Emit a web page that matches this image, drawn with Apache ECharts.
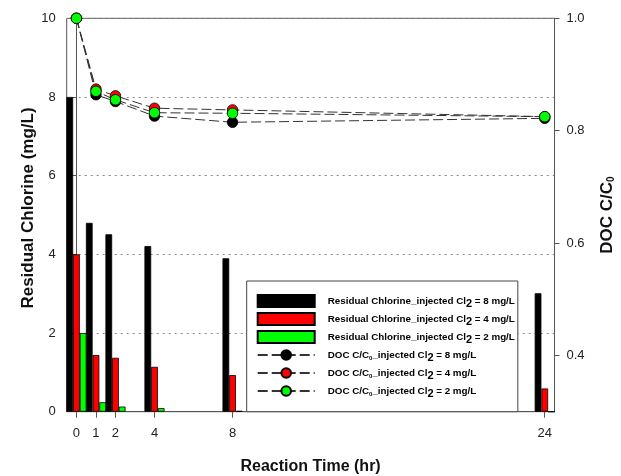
<!DOCTYPE html>
<html>
<head>
<meta charset="utf-8">
<script src="https://cdn.jsdelivr.net/npm/echarts@6/dist/echarts.min.js"></script>
<style>
  html, body { margin: 0; padding: 0; background: #fff; }
  #chart { width: 621px; height: 476px; }
</style>
</head>
<body>
<div id="chart"></div>
<script>
// Sampling times (hr)
const times = [0, 1, 2, 4, 8, 24];
const timeTicks = [0, 1, 2, 4, 8, 24];

// Residual chlorine (mg/L) for each injected Cl2 dose
const chlorine8 = [8.0, 4.80, 4.51, 4.21, 3.90, 3.01];
const chlorine4 = [4.0, 1.44, 1.37, 1.14, 0.93, 0.59];
const chlorine2 = [2.0, 0.24, 0.13, 0.09, 0.02, 0];

// DOC C/C0 for each injected Cl2 dose
const doc8 = [1.0, 0.864, 0.852, 0.826, 0.815, 0.822];
const doc4 = [1.0, 0.874, 0.862, 0.840, 0.837, 0.825];
const doc2 = [1.0, 0.870, 0.855, 0.832, 0.831, 0.825];

const docTicks = [0.4, 0.6, 0.8, 1.0];

const names = {
  cl8: 'Residual Chlorine_injected Cl2 = 8 mg/L',
  cl4: 'Residual Chlorine_injected Cl2 = 4 mg/L',
  cl2: 'Residual Chlorine_injected Cl2 = 2 mg/L',
  doc8: 'DOC C/C0_injected Cl2 = 8 mg/L',
  doc4: 'DOC C/C0_injected Cl2 = 4 mg/L',
  doc2: 'DOC C/C0_injected Cl2 = 2 mg/L'
};

const FONT = 'Arial, "Liberation Sans", sans-serif';
const AXIS_COLOR = '#555';

const pairs = (ys) => times.map((t, i) => [t, ys[i]]);

function barSeries(name, ys, color) {
  return {
    name, type: 'bar', yAxisIndex: 0,
    data: pairs(ys),
    barWidth: 6.7, barGap: '0%',
    itemStyle: { color, borderColor: '#000', borderWidth: 0.8 },
    emphasis: { disabled: true }
  };
}

function docSeries(name, ys, color) {
  return {
    name, type: 'line', yAxisIndex: 1,
    data: pairs(ys),
    symbol: 'circle', symbolSize: 10.5,
    itemStyle: { color, borderColor: '#000', borderWidth: 0.8 },
    lineStyle: { color: '#333', width: 1, type: [10, 4] },
    emphasis: { disabled: true }
  };
}

// Legend text: every run is a rich token so the subscripts can sit lower
function legendLabel(name) {
  const parts = name.replace('C/C0', 'C/C\u0001z\u0001').replace('Cl2', 'Cl\u0001s\u0001').split('\u0001');
  let out = '';
  parts.forEach((p, i) => {
    if (i % 2 === 0) { if (p) out += '{t|' + p + '}'; }
    else if (p === 's') out += '{s|2}';
    else out += '{z|0}';
  });
  return out;
}

const chart = echarts.init(document.getElementById('chart'), null, { renderer: 'canvas' });

chart.setOption({
  animation: false,
  backgroundColor: '#fff',
  textStyle: { fontFamily: FONT },
  grid: {
    left: 66.7, right: 66.5, top: 18.3, bottom: 64.3,
    outerBoundsMode: 'none', containLabel: false,
    show: true, borderColor: AXIS_COLOR, borderWidth: 1, backgroundColor: 'transparent'
  },
  legend: {
    orient: 'vertical',
    left: 246.7, top: 281,
    padding: [12, 3, 12.7, 10],
    itemGap: 2,
    itemWidth: 57, itemHeight: 12,
    borderColor: '#444', borderWidth: 1,
    backgroundColor: '#fff',
    selectedMode: false,
    data: [
      { name: names.cl8, icon: 'rect' },
      { name: names.cl4, icon: 'rect' },
      { name: names.cl2, icon: 'rect' },
      { name: names.doc8 },
      { name: names.doc4 },
      { name: names.doc2 }
    ],
    formatter: legendLabel,
    textStyle: {
      fontFamily: FONT, fontSize: 9.8, fontWeight: 'bold', color: '#000',
      padding: [0, 0, 0, 8],
      rich: {
        t: { fontFamily: FONT, fontSize: 9.8, fontWeight: 'bold', color: '#000', lineHeight: 12, verticalAlign: 'middle' },
        s: { fontFamily: FONT, fontSize: 11, fontWeight: 'bold', color: '#000', lineHeight: 9, padding: [5, 0, 0, 0], verticalAlign: 'middle' },
        z: { fontFamily: FONT, fontSize: 6, fontWeight: 'bold', color: '#000', lineHeight: 8, padding: [6, 0, 0, 0], verticalAlign: 'middle' }
      }
    }
  },
  xAxis: {
    type: 'value', min: -0.5, max: 24.5,
    name: 'Reaction Time (hr)', nameLocation: 'middle', nameGap: 47, nameMoveOverlap: false,
    nameTextStyle: { fontFamily: FONT, fontSize: 16, fontWeight: 'bold', color: '#111' },
    axisLine: { show: true, lineStyle: { color: AXIS_COLOR, width: 1 } },
    axisTick: { show: true, customValues: timeTicks, length: 6, inside: false, lineStyle: { color: AXIS_COLOR } },
    axisLabel: { customValues: timeTicks, fontSize: 13, color: '#222', margin: 15, fontFamily: FONT },
    splitLine: { show: false }
  },
  yAxis: [
    {
      type: 'value', min: 0, max: 10, interval: 2, position: 'left',
      name: 'Residual Chlorine (mg/L)', nameLocation: 'middle', nameRotate: 90, nameGap: 30, nameMoveOverlap: false,
      nameTextStyle: { fontFamily: FONT, fontSize: 17, fontWeight: 'bold', color: '#111', padding: [0, 0, 0, 14] },
      axisLine: { show: true, lineStyle: { color: AXIS_COLOR, width: 1 } },
      axisTick: { show: true, length: 5, lineStyle: { color: AXIS_COLOR } },
      axisLabel: { fontSize: 13, color: '#222', margin: 11, fontFamily: FONT },
      splitLine: { show: true, lineStyle: { color: '#888', width: 1, type: [2, 4] } }
    },
    {
      type: 'value', min: 0.3, max: 1.0, position: 'right',
      name: 'DOC C/C{sub|0}', nameLocation: 'middle', nameRotate: 90, nameGap: 44, nameMoveOverlap: false,
      nameTextStyle: {
        fontFamily: FONT, fontSize: 17, fontWeight: 'bold', color: '#111',
        rich: { sub: { fontFamily: FONT, fontSize: 10, fontWeight: 'bold', color: '#111', padding: [8, 0, 0, 0] } }
      },
      axisLine: { show: true, lineStyle: { color: AXIS_COLOR, width: 1 } },
      axisTick: { show: true, customValues: docTicks, length: 5, lineStyle: { color: AXIS_COLOR } },
      axisLabel: { customValues: docTicks, fontSize: 13, color: '#222', margin: 12, fontFamily: FONT,
                   formatter: (v) => v.toFixed(1) },
      splitLine: { show: false }
    }
  ],
  series: [
    barSeries(names.cl8, chlorine8, '#000000'),
    barSeries(names.cl4, chlorine4, '#ff0000'),
    barSeries(names.cl2, chlorine2, '#00ff00'),
    docSeries(names.doc8, doc8, '#000000'),
    docSeries(names.doc4, doc4, '#ff0000'),
    docSeries(names.doc2, doc2, '#00ff00')
  ]
});
</script>
</body>
</html>
